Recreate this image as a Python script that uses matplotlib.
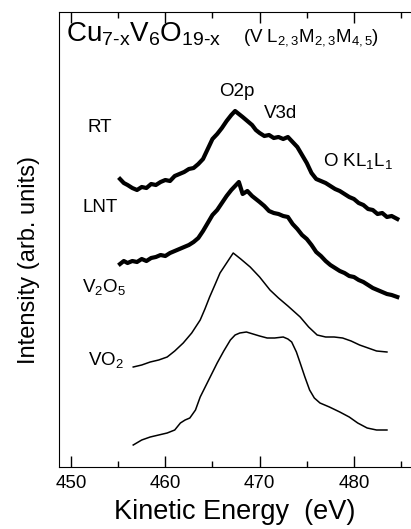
import matplotlib
matplotlib.use("Agg")
import matplotlib.pyplot as plt
from matplotlib.ticker import MultipleLocator

plt.rcParams['font.family'] = ['Liberation Sans', 'DejaVu Sans']
plt.rcParams['mathtext.fontset'] = 'custom'
plt.rcParams['mathtext.rm'] = 'Liberation Sans'
plt.rcParams['mathtext.it'] = 'Liberation Sans:italic'

# 数据 (kinetic energy in eV, intensity in arbitrary offset units)
e_exp = [455.2, 455.6, 456.0, 456.5, 457.0, 457.5, 458.0, 458.5, 459.0, 459.5,
         460.0, 460.5, 461.0, 461.5, 462.0, 462.5, 463.0, 463.5, 464.0, 464.5,
         465.0, 465.5, 466.0, 466.5, 467.0, 467.4, 467.8, 468.2, 468.7, 469.2,
         469.6, 470.0, 470.5, 471.0, 471.5, 472.0, 472.5, 473.0, 473.5, 474.0,
         474.5, 475.0, 475.5, 476.0, 476.5, 477.0, 477.5, 478.0, 478.5, 479.0,
         479.5, 480.0, 480.5, 481.0, 481.5, 482.0, 482.5, 483.0, 483.5, 484.0,
         484.6]
rt = [288, 284, 282, 279, 277, 280, 279, 283, 282, 285,
      287, 286, 291, 293, 295, 298, 299, 303, 308, 318,
      328, 333, 339, 346, 352, 356, 353, 350, 346, 342,
      337, 334, 331, 332, 329, 330, 328, 330, 325, 320,
      312, 304, 294, 288, 286, 284, 281, 278, 276, 273,
      270, 268, 264, 262, 258, 257, 253, 254, 250, 251,
      248]
lnt = [203, 206, 204, 206, 205, 208, 206, 209, 210, 212,
       211, 214, 216, 218, 220, 222, 225, 229, 236, 244,
       252, 257, 264, 271, 277, 281, 285, 273, 276, 271,
       268, 265, 261, 256, 254, 253, 251, 250, 243, 238,
       232, 228, 222, 215, 211, 206, 202, 199, 196, 194,
       191, 190, 187, 185, 182, 179, 177, 175, 173, 172,
       170]

e_v2o5 = [456.6, 457.5, 458.4, 459.3, 460.2, 461.0, 461.9, 462.8, 463.7, 464.2,
          464.7, 465.3, 465.8, 466.5, 467.2, 468.0, 469.0, 470.0, 471.1, 472.0,
          473.0, 474.3, 475.2, 476.1, 477.0, 477.9, 478.8, 479.7, 480.6, 481.5,
          482.4, 483.5]
v2o5 = [100, 102, 105, 107, 110, 116, 124, 134, 147, 158,
        170, 183, 194, 204, 214, 208, 200, 190, 177, 169,
        161, 150, 140, 132, 130, 130, 129, 126, 122, 119,
        116, 115]

e_vo2 = [456.6, 457.5, 458.4, 459.3, 460.2, 461.0, 461.6, 462.1, 462.6, 463.2,
         463.7, 464.6, 465.5, 466.2, 466.9, 467.4, 467.9, 468.6, 469.3, 470.0,
         470.8, 471.6, 472.5, 473.0, 473.4, 473.9, 474.3, 474.8, 475.3, 475.8,
         476.4, 477.4, 478.5, 479.5, 480.4, 481.4, 482.4, 483.5]
vo2 = [22, 27, 30, 32, 34, 37, 44, 47, 49, 57,
       70, 87, 104, 116, 127, 132, 134, 135, 133, 131,
       129, 129, 130, 128, 125, 115, 104, 90, 77, 69,
       64, 60, 55, 50, 44, 39, 37, 37]

fig = plt.figure(figsize=(4.11, 5.29), dpi=100)
ax = fig.add_axes([59 / 411, 1 - 467 / 529, 1 - 59 / 411, 455 / 529])

ax.plot(e_exp, rt, color="black", lw=3.0, solid_joinstyle="round")
ax.plot(e_exp, lnt, color="black", lw=3.0, solid_joinstyle="round")
ax.plot(e_v2o5, v2o5, color="black", lw=1.1)
ax.plot(e_vo2, vo2, color="black", lw=1.1)

ax.set_xlim(448.73, 486.05)
ax.set_ylim(0, 455)
ax.set_yticks([])
ax.xaxis.set_major_locator(MultipleLocator(10))
ax.xaxis.set_minor_locator(MultipleLocator(5))
ax.tick_params(axis="x", which="both", direction="in", top=True, labelsize=13.5, pad=6)
ax.tick_params(axis="x", which="major", length=8, width=1)
ax.tick_params(axis="x", which="minor", length=4, width=1)
ax.spines["right"].set_visible(False)

ax.set_xlabel("Kinetic Energy  (eV)", fontsize=19.5, labelpad=5)
ax.set_ylabel("Intensity (arb. units)", fontsize=17)
ax.yaxis.set_label_coords(-0.055, 0.455)


def px(x, y):
    # 像素坐标 -> 数据坐标
    return 450 + (x - 71) / 9.43, 467 - y


ax.text(*px(66, 42), r"$\mathregular{Cu_{7\text{-}x}V_6O_{19\text{-}x}}$", fontsize=20, va="baseline", ha="left")
ax.text(*px(243, 42), r"$\mathregular{(V\ L_{2,3}M_{2,3}M_{4,5})}$", fontsize=13.5, va="baseline", ha="left")
ax.text(*px(237, 92), "O2p", fontsize=13.5, ha="center", va="center")
ax.text(*px(281, 113), "V3d", fontsize=13.5, ha="center", va="center")
ax.text(*px(323, 166), r"$\mathregular{O\ KL_1L_1}$", fontsize=13.5, ha="left", va="baseline")
ax.text(*px(88, 128), "RT", fontsize=13.5, ha="left", va="center")
ax.text(*px(83, 207), "LNT", fontsize=13.5, ha="left", va="center")
ax.text(*px(82, 292), r"$\mathregular{V_2O_5}$", fontsize=13.5, ha="left", va="baseline")
ax.text(*px(88, 365), r"$\mathregular{VO_2}$", fontsize=13.5, ha="left", va="baseline")

fig.savefig("out.png", dpi=100)
